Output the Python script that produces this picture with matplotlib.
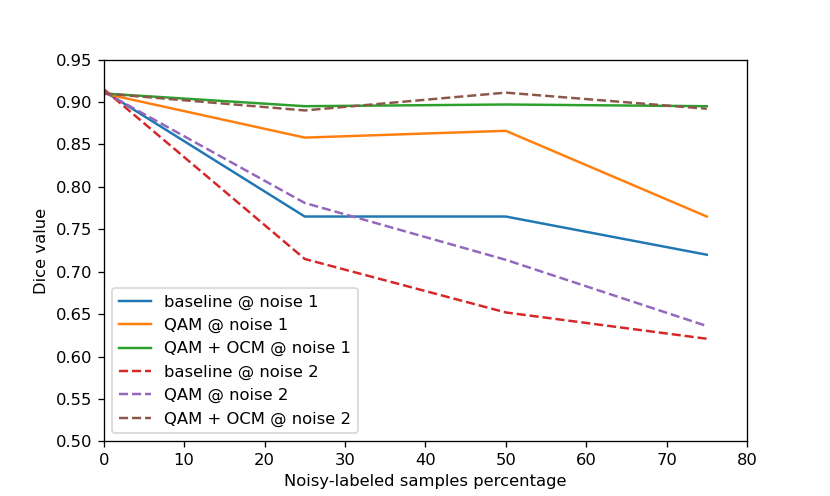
import matplotlib
matplotlib.use("Agg")
import matplotlib.pyplot as plt

# noisy-labeled samples percentage
pct = [0, 25, 50, 75]

# dice values, noise 1
baseline_n1 = [0.913, 0.765, 0.765, 0.720]
qam_n1 = [0.910, 0.858, 0.866, 0.765]
qam_ocm_n1 = [0.910, 0.895, 0.897, 0.895]

# dice values, noise 2
baseline_n2 = [0.915, 0.715, 0.652, 0.621]
qam_n2 = [0.912, 0.781, 0.714, 0.636]
qam_ocm_n2 = [0.910, 0.890, 0.911, 0.892]

DPI = 118
fig, ax = plt.subplots(figsize=(830 / DPI, 496 / DPI), dpi=DPI)

ax.plot(pct, baseline_n1, color="tab:blue", label="baseline @ noise 1")
ax.plot(pct, qam_n1, color="tab:orange", label="QAM @ noise 1")
ax.plot(pct, qam_ocm_n1, color="tab:green", label="QAM + OCM @ noise 1")
ax.plot(pct, baseline_n2, "--", color="tab:red", label="baseline @ noise 2")
ax.plot(pct, qam_n2, "--", color="tab:purple", label="QAM @ noise 2")
ax.plot(pct, qam_ocm_n2, "--", color="tab:brown", label="QAM + OCM @ noise 2")

ax.set_xlim(0, 80)
ax.set_ylim(0.50, 0.95)
ax.set_xlabel("Noisy-labeled samples percentage")
ax.set_ylabel("Dice value")
ax.legend(loc="lower left")

fig.savefig("out.png", dpi=DPI)
